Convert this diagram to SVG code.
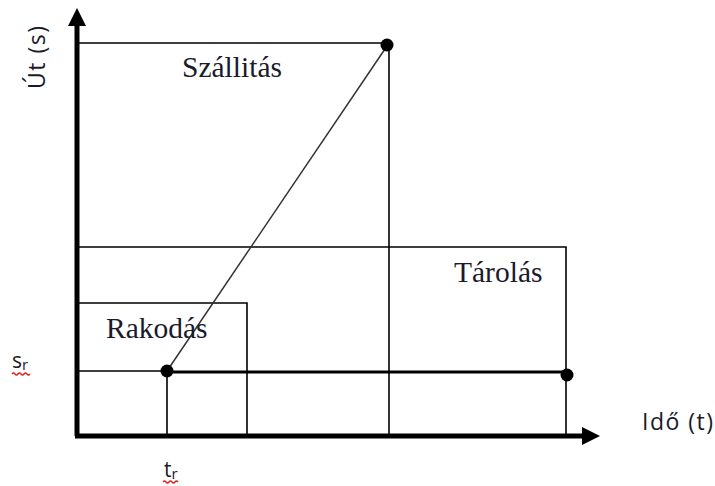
<svg xmlns="http://www.w3.org/2000/svg" width="715" height="486" viewBox="0 0 715 486">
<defs>
<style>
.thin{stroke:#000;stroke-width:1.6;fill:none}
.thick{stroke:#000;stroke-width:3;fill:none}
.axis{stroke:#000;stroke-width:5;fill:none}
.serif{font-family:"Liberation Serif","Times New Roman",serif;font-size:29.5px;fill:#1a1a2a}
.sans{font-family:"Open Sans","Liberation Sans",sans-serif;font-size:23px;fill:#1a1a2a}
.sub{font-family:"Open Sans","Liberation Sans",sans-serif;fill:#1a1a2a}
.wavy{stroke:#e02020;stroke-width:1.3;fill:none}
.dot{fill:#000}
</style>
<marker id="ah" markerWidth="4" markerHeight="4" refX="0" refY="2" orient="auto" markerUnits="strokeWidth">
<path d="M0,0.2 L3.6,2 L0,3.8 Z" fill="#000"/>
</marker>
</defs>
<rect width="715" height="486" fill="#fff"/>
<g id="connectors">
<path class="thin" d="M77,43 H389 V436"/>
<path class="thin" d="M77,247 H566 V436"/>
<path class="thin" d="M77,303 H247 V436"/>
<path class="thin" d="M77,371 H167 V436"/>
<path class="thick" d="M167,372 H567"/>
<line x1="167" y1="371" x2="387" y2="46" stroke="#333" stroke-width="1.5"/>
<path class="axis" d="M77,436 V26" marker-end="url(#ah)"/>
<path class="axis" d="M75,436 H582" marker-end="url(#ah)"/>
</g>
<g id="points">
<circle class="dot" cx="167" cy="371" r="6.5"/>
<circle class="dot" cx="387" cy="45" r="6.5"/>
<circle class="dot" cx="567" cy="375" r="6.5"/>
</g>
<g id="szallitas"><text class="serif" x="182" y="77">Szállitás</text></g>
<g id="tarolas"><text class="serif" x="454" y="282">Tárolás</text></g>
<g id="rakodas"><text class="serif" x="106" y="338">Rakodás</text></g>
<g id="y-label"><text class="sans" transform="translate(45,89) rotate(-90)" textLength="63" lengthAdjust="spacing">Út (s)</text></g>
<g id="x-label"><text class="sans" x="642" y="430" textLength="71" lengthAdjust="spacing">Idő (t)</text></g>
<g id="sr">
<text class="sub" x="12" y="368" font-size="21">s<tspan font-size="15" dy="2">r</tspan></text>
<path class="wavy" d="M12,374 q1.5,-2 3,0 t3,0 t3,0 t3,0 t3,0 t3,0"/>
</g>
<g id="tr">
<text class="sub" x="164" y="477" font-size="21">t<tspan font-size="15" dy="2">r</tspan></text>
<path class="wavy" d="M163,482 q1.5,-2 3,0 t3,0 t3,0 t3,0 t3,0"/>
</g>
</svg>
